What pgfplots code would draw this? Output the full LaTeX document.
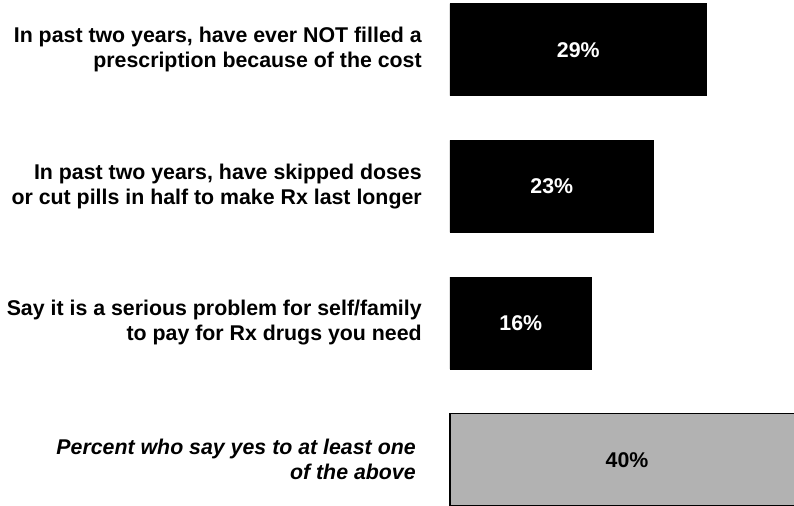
\documentclass[border=0pt]{standalone}
\usepackage{pgfplots}
\pgfplotsset{compat=1.18}
\usepackage{fontspec}
\setmainfont{Liberation Sans}
\definecolor{lgray}{RGB}{178,178,178}
\begin{document}
\begin{tikzpicture}
\path[use as bounding box] (0,0) rectangle (595.5pt,379.5pt);
\begin{axis}[
  at={(337.5pt,0pt)}, anchor=south west,
  scale only axis,
  width=268.82pt, height=379.5pt,
  xmin=0, xmax=40.5,
  ymin=-0.364, ymax=3.339,
  y dir=reverse,
  axis line style={draw=none},
  major tick length=0pt,
  xtick=\empty,
  ytick={0,1,2,3},
  yticklabels={
    {In past two years, have ever NOT filled a\\prescription because of the cost},
    {In past two years, have skipped doses\\or cut pills in half to make Rx last longer},
    {Say it is a serious problem for self/family\\to pay for Rx drugs you need},
    {\itshape Percent who say yes to at least one\hspace*{4.5pt}\\\itshape of the above\hspace*{4.5pt}}
  },
  yticklabel style={align=right, font=\fontsize{16}{18.75}\selectfont\bfseries, inner sep=0pt, xshift=-21pt},
  xbar, bar width=69pt,
  clip=false,
  point meta=x,
  /pgf/number format/assume math mode=true,
  nodes near coords={\pgfmathprintnumber[assume math mode=true]{\pgfplotspointmeta}\%},
  visualization depends on={rawx \as \rawx},
  every node near coord/.append style={anchor=center, xshift={-\rawx*3.31875pt}, font=\fontsize{16}{18.75}\selectfont\bfseries},
]
\addplot[xbar, bar shift=0pt, fill=black, draw=black, line width=0.5pt,
  every node near coord/.append style={text=white}]
  coordinates {(29,0) (23,1) (16,2)};
\addplot[xbar, bar shift=0pt, fill=lgray, draw=black, line width=0.9pt,
  every node near coord/.append style={text=black}]
  coordinates {(40,3)};
\end{axis}
\end{tikzpicture}
\end{document}
